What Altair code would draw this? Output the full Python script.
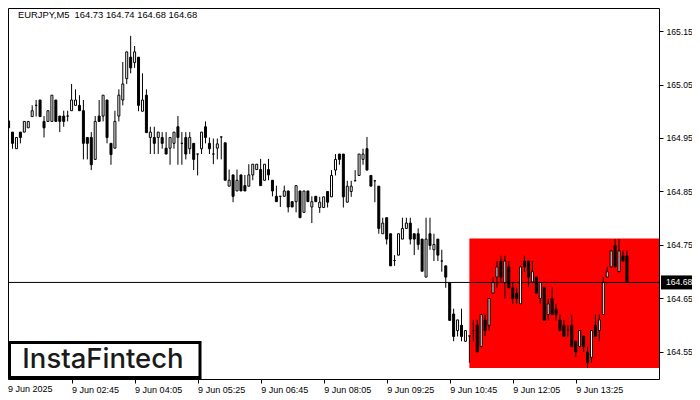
import altair as alt
import pandas as pd

# ---------------- data (EURJPY, M5) ----------------
opens = [164.982,164.961,164.930,164.961,164.961,164.969,164.990,165.011,165.021,164.981,
         164.981,164.981,165.021,164.991,164.991,164.991,165.001,165.011,165.011,165.001,
         164.951,164.951,164.910,164.991,164.991,165.021,164.940,164.931,164.991,165.021,
         165.061,165.101,165.091,165.101,165.000,165.030,164.951,164.951,164.951,164.951,
         164.931,164.931,164.940,164.971,164.940,164.951,164.930,164.940,164.920,164.930,
         164.971,164.940,164.920,164.931,164.952,164.941,164.860,164.881,164.851,164.881,
         164.861,164.860,164.881,164.891,164.891,164.871,164.891,164.871,164.841,164.841,
         164.841,164.851,164.831,164.831,164.851,164.811,164.851,164.821,164.841,164.820,
         164.820,164.850,164.840,164.890,164.920,164.920,164.830,164.850,164.870,164.880,
         164.910,164.930,164.880,164.870,164.860,164.771,164.801,164.771,164.721,164.731,
         164.761,164.781,164.791,164.771,164.771,164.761,164.690,164.771,164.741,164.761,
         164.720,164.711,164.680,164.621,164.590,164.600,164.570,164.580,164.590,164.600,
         164.560,164.610,164.600,164.660,164.690,164.720,164.680,164.709,164.670,164.660,
         164.640,164.720,164.720,164.681,164.690,164.650,164.671,164.620,164.650,164.630,
         164.610,164.600,164.591,164.600,164.570,164.560,164.580,164.550,164.540,164.600,
         164.590,164.620,164.690,164.709,164.749,164.700,164.730,164.730]
highs = [164.982,164.961,164.951,164.961,164.981,164.981,165.011,165.021,165.021,164.991,
         165.001,165.030,165.021,164.991,165.001,165.001,165.051,165.041,165.030,165.021,
         164.951,164.961,164.991,165.021,165.030,165.021,164.940,165.001,165.041,165.092,
         165.111,165.141,165.122,165.101,165.071,165.041,164.971,164.971,164.961,164.961,
         164.961,164.951,164.961,164.991,164.961,164.961,164.961,164.940,164.920,164.961,
         164.981,164.951,164.949,164.949,164.952,164.941,164.891,164.881,164.891,164.881,
         164.881,164.901,164.901,164.901,164.911,164.901,164.911,164.871,164.861,164.841,
         164.861,164.851,164.831,164.861,164.851,164.851,164.851,164.841,164.841,164.840,
         164.840,164.850,164.890,164.920,164.920,164.920,164.870,164.870,164.890,164.920,
         164.930,164.952,164.880,164.870,164.860,164.801,164.801,164.771,164.731,164.771,
         164.801,164.801,164.801,164.771,164.781,164.761,164.801,164.801,164.771,164.761,
         164.741,164.711,164.680,164.631,164.610,164.631,164.590,164.580,164.610,164.610,
         164.620,164.620,164.650,164.690,164.720,164.730,164.730,164.720,164.680,164.670,
         164.709,164.730,164.720,164.720,164.690,164.680,164.671,164.650,164.671,164.640,
         164.620,164.610,164.600,164.620,164.570,164.590,164.580,164.560,164.590,164.620,
         164.620,164.690,164.709,164.739,164.761,164.761,164.739,164.740]
lows = [164.969,164.930,164.930,164.940,164.961,164.969,164.990,164.990,164.990,164.951,
        164.981,164.981,164.981,164.961,164.971,164.981,165.001,165.011,165.001,164.910,
        164.910,164.890,164.910,164.981,164.981,164.940,164.900,164.931,164.981,165.011,
        165.051,165.071,165.081,165.000,165.000,164.960,164.920,164.920,164.920,164.930,
        164.920,164.900,164.930,164.900,164.900,164.910,164.920,164.890,164.880,164.920,
        164.940,164.920,164.901,164.910,164.910,164.871,164.860,164.830,164.851,164.851,
        164.851,164.860,164.871,164.891,164.861,164.871,164.871,164.841,164.831,164.821,
        164.841,164.811,164.821,164.811,164.801,164.811,164.831,164.791,164.831,164.810,
        164.820,164.820,164.840,164.880,164.900,164.820,164.830,164.840,164.870,164.880,
        164.900,164.890,164.860,164.830,164.771,164.771,164.751,164.711,164.711,164.731,
        164.761,164.781,164.751,164.731,164.741,164.701,164.690,164.741,164.720,164.720,
        164.700,164.670,164.609,164.570,164.579,164.570,164.570,164.530,164.570,164.550,
        164.560,164.580,164.590,164.660,164.670,164.680,164.650,164.670,164.640,164.640,
        164.640,164.700,164.671,164.681,164.660,164.640,164.609,164.609,164.620,164.609,
        164.590,164.579,164.579,164.560,164.540,164.560,164.550,164.520,164.530,164.579,
        164.570,164.620,164.690,164.709,164.709,164.700,164.720,164.680]
closes = [164.969,164.940,164.951,164.951,164.981,164.981,165.001,165.011,164.990,164.969,
          165.001,165.030,164.981,164.981,164.981,164.991,165.021,165.021,165.001,164.940,
          164.940,164.900,164.981,164.981,165.030,164.951,164.919,164.981,165.030,165.051,
          165.111,165.081,165.111,165.011,165.021,164.960,164.961,164.940,164.961,164.940,
          164.920,164.951,164.961,164.951,164.940,164.920,164.951,164.910,164.920,164.961,
          164.951,164.930,164.920,164.939,164.952,164.871,164.871,164.841,164.871,164.851,
          164.851,164.881,164.901,164.901,164.861,164.901,164.881,164.851,164.831,164.841,
          164.851,164.821,164.821,164.861,164.801,164.851,164.831,164.831,164.831,164.830,
          164.840,164.830,164.880,164.910,164.910,164.840,164.860,164.860,164.870,164.920,
          164.920,164.890,164.860,164.870,164.781,164.791,164.761,164.711,164.721,164.771,
          164.781,164.791,164.761,164.761,164.751,164.701,164.761,164.749,164.751,164.731,
          164.720,164.690,164.609,164.579,164.610,164.579,164.590,164.580,164.590,164.550,
          164.620,164.590,164.650,164.680,164.709,164.690,164.720,164.670,164.650,164.650,
          164.709,164.709,164.690,164.700,164.660,164.680,164.609,164.640,164.620,164.620,
          164.590,164.579,164.591,164.560,164.550,164.590,164.560,164.530,164.590,164.579,
          164.610,164.680,164.700,164.739,164.709,164.739,164.720,164.680]

price_ticks = [164.55, 164.65, 164.75, 164.85, 164.95, 165.05, 165.15]
time_tick_idx = [16, 32, 48, 64, 80, 96, 112, 128, 144]
time_tick_labels = ["9 Jun 02:45", "9 Jun 04:05", "9 Jun 05:25", "9 Jun 06:45", "9 Jun 08:05",
                    "9 Jun 09:25", "9 Jun 10:45", "9 Jun 12:05", "9 Jun 13:25"]
first_label = "9 Jun 2025"
last_price = [164.68]
pattern_start = [117]
pattern_top = [164.762]
pattern_bottom = [164.520]
header = "EURJPY,M5\u00a0 164.73 164.74 164.68 164.68"
logo = "InstaFintech"

# ---------------- build ----------------
W, H = 651, 371
RIGHT = 33
FONT = "Liberation Sans"

df = pd.DataFrame({"i": list(range(len(opens))), "open": opens, "high": highs,
                   "low": lows, "close": closes})
df["dir"] = ["up" if c >= o else "down" for o, c in zip(opens, closes)]

xs = alt.Scale(domain=[1.125, 1.125 + W / 4], nice=False, zero=False)
ys = alt.Scale(domain=[164.4995, 165.193], nice=False, zero=False)

label_expr = ("[" + ",".join("'%s'" % s for s in time_tick_labels) + "][indexof(["
              + ",".join(str(v) for v in time_tick_idx) + "], datum.value)]")

x_axis = alt.Axis(orient="bottom", values=time_tick_idx, labelExpr=label_expr, title=None,
                  grid=False, domain=False, tickSize=4, tickColor="black", labelColor="black",
                  labelFont=FONT, labelFontSize=9, labelAlign="left", labelBaseline="top",
                  labelPadding=2, labelOverlap=False, labelFlush=False, labelBound=False)
y_axis = alt.Axis(orient="right", values=price_ticks, format=".2f", title=None, grid=False,
                  domain=False, tickSize=4, tickColor="black", labelColor="black",
                  labelFont=FONT, labelFontSize=8.6, labelPadding=3, labelBaseline="middle")

rect_df = pd.DataFrame({"start": pattern_start, "top": pattern_top, "bottom": pattern_bottom})
pattern = alt.Chart(rect_df).mark_rect(color="#ff0000", clip=True).encode(
    x=alt.X("start:Q", scale=xs, axis=x_axis),
    x2=alt.value(W),
    y=alt.Y("top:Q", scale=ys, axis=y_axis),
    y2="bottom:Q",
)

last_df = pd.DataFrame({"last": last_price})
hline = alt.Chart(last_df).mark_rule(color="black", strokeWidth=1).encode(
    y=alt.Y("last:Q", scale=ys))

wicks = alt.Chart(df).mark_rule(color="black", strokeWidth=1, clip=True).encode(
    x=alt.X("i:Q", scale=xs), y=alt.Y("low:Q", scale=ys), y2="high:Q")

bodies = alt.Chart(df).mark_bar(size=2, stroke="black", strokeWidth=1, clip=True).encode(
    x=alt.X("i:Q", scale=xs), y=alt.Y("open:Q", scale=ys), y2="close:Q",
    fill=alt.Fill("dir:N", scale=alt.Scale(domain=["up", "down"], range=["white", "black"]),
                  legend=None))

tag = alt.Chart(last_df).mark_point(
    shape="M-1,-0.4516L1,-0.4516L1,0.4516L-1,0.4516Z", filled=True, fill="black",
    opacity=1, size=961, strokeWidth=0, clip=False).encode(
    x=alt.value(W + 17.5), y=alt.Y("last:Q", scale=ys))
tag_text = alt.Chart(last_df).mark_text(
    color="white", align="left", baseline="middle", font=FONT, fontSize=8.6).encode(
    x=alt.value(W + 7), y=alt.Y("last:Q", scale=ys), text=alt.Text("last:Q", format=".2f"))

one = pd.DataFrame({"t": [header], "l": [logo], "f": [first_label]})
title = alt.Chart(one).mark_text(align="left", baseline="middle", font=FONT,
                                 fontSize=9.4, color="black").encode(
    x=alt.value(10), y=alt.value(7), text="t:N")
first = alt.Chart(one).mark_text(align="left", baseline="top", font=FONT,
                                 fontSize=9, color="black").encode(
    x=alt.value(0), y=alt.value(H + 6), text="f:N")
logo_box = alt.Chart(one).mark_rect(fill="white", stroke="black", strokeWidth=3).encode(
    x=alt.value(1.5), x2=alt.value(192), y=alt.value(334.5), y2=alt.value(369.5))
logo_text = alt.Chart(one).mark_text(align="center", baseline="middle", font="Inter",
                                     fontSize=27.5, fontWeight=500, color="#1a1a1a").encode(
    x=alt.value(95), y=alt.value(352), text="l:N")

chart = alt.layer(pattern, hline, wicks, bodies, tag, tag_text, title, first,
                  logo_box, logo_text).properties(
    width=W, height=H, autosize=alt.AutoSizeParams(type="none"),
    padding={"left": 0, "top": 0, "right": RIGHT, "bottom": 21},
    background="white",
).configure_view(stroke="black", strokeWidth=1)

chart.save("out.html", embed_options={"renderer": "svg", "actions": False})
